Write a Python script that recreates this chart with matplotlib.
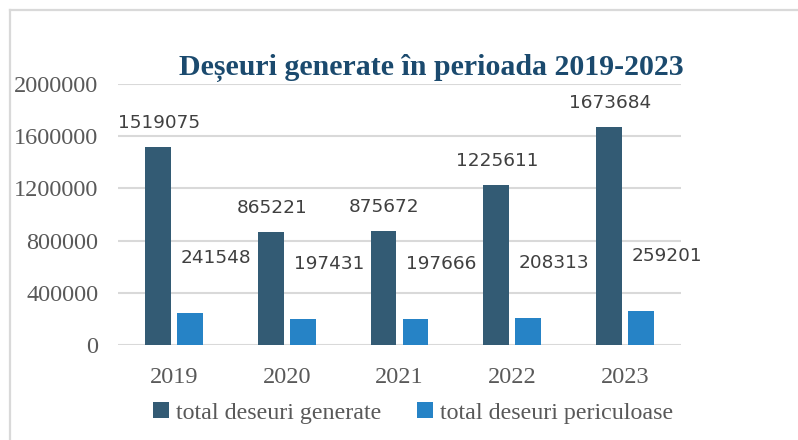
import numpy as np
import matplotlib.pyplot as plt
from matplotlib.lines import Line2D

years = ['2019', '2020', '2021', '2022', '2023']
total_generate = [1519075, 865221, 875672, 1225611, 1673684]
total_periculoase = [241548, 197431, 197666, 208313, 259201]
y_ticks = [0, 400000, 800000, 1200000, 1600000, 2000000]

DARK = '#335B74'
LIGHT = '#2683C6'
GRID = '#D9D9D9'
TEXT = '#595959'
LABEL = '#404040'
SERIF = 'Liberation Serif'

fig = plt.figure(figsize=(7.98, 4.40), dpi=100)
ax = fig.add_axes([118 / 798, 95 / 440, 563 / 798, 261 / 440])

x = np.arange(len(years))
w = 0.23
off = 0.142
ax.bar(x - off, total_generate, w, color=DARK, zorder=3,
       label='total deseuri generate')
ax.bar(x + off, total_periculoase, w, color=LIGHT, zorder=3,
       label='total deseuri periculoase')

# etichete de date
for xi, v in zip(x, total_generate):
    ax.annotate(f'{v}', (xi - off, v), xytext=(1, 24), textcoords='offset pixels',
                ha='center', va='center', fontsize=13.3, color=LABEL,
                family='DejaVu Sans')
for xi, v in zip(x, total_periculoase):
    ax.annotate(f'{v}', (xi + off, v), xytext=(26, 55), textcoords='offset pixels',
                ha='center', va='center', fontsize=13.3, color=LABEL,
                family='DejaVu Sans')

ax.set_xlim(-0.5, len(years) - 0.5)
ax.set_ylim(0, 2000000)
ax.set_yticks(y_ticks)
ax.set_yticklabels([str(t) for t in y_ticks])
ax.set_xticks(x)
ax.set_xticklabels(years)
ax.tick_params(axis='both', length=0, labelsize=17.5, labelcolor=TEXT)
ax.tick_params(axis='y', pad=14)
ax.tick_params(axis='x', pad=16)
for lab in ax.get_xticklabels() + ax.get_yticklabels():
    lab.set_family(SERIF)

ax.grid(axis='y', color=GRID, linewidth=1.5, zorder=0)
for s in ax.spines.values():
    s.set_visible(False)

fig.text(431 / 798, 1 - 68 / 440, 'Deșeuri generate în perioada 2019-2023',
         ha='center', va='center', fontsize=21.5, fontweight='bold',
         color='#1B4A6E', family=SERIF)

fig.legend(loc='center', bbox_to_anchor=(413 / 798, 1 - 413 / 440), ncol=2,
           frameon=False, handlelength=0.65, handleheight=0.65, handletextpad=0.3,
           columnspacing=1.5, prop={'family': SERIF, 'size': 17.3}, labelcolor=TEXT)

# chenar exterior (doar sus si stanga)
fig.add_artist(Line2D([9.5 / 798, 797 / 798], [1 - 10 / 440, 1 - 10 / 440],
                      transform=fig.transFigure, color=GRID, linewidth=1.6))
fig.add_artist(Line2D([9.5 / 798, 9.5 / 798], [0, 1 - 10 / 440],
                      transform=fig.transFigure, color=GRID, linewidth=1.6))

fig.savefig('out.png', dpi=100)
